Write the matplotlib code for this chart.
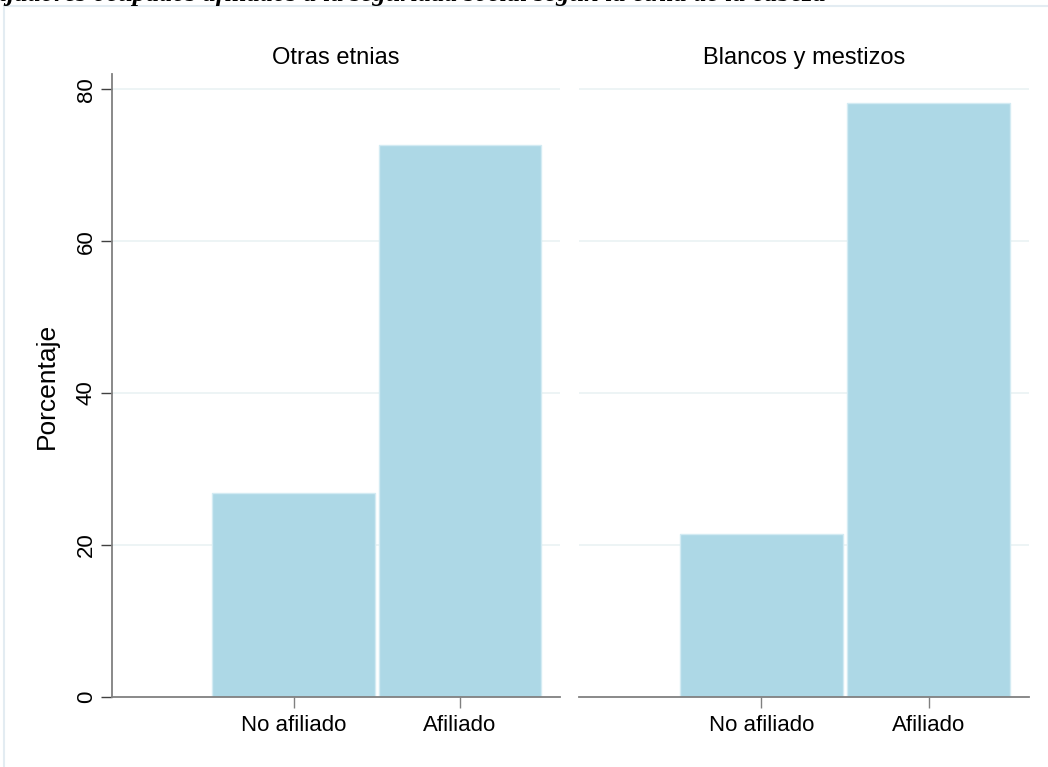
import numpy as np
import matplotlib.pyplot as plt
from matplotlib.patches import Rectangle

plt.rcParams['font.family'] = ['Liberation Sans', 'DejaVu Sans']

# data
groups = ['Otras etnias', 'Blancos y mestizos']
categories = ['No afiliado', 'Afiliado']
pct_otras = [26.9, 72.6]
pct_blancos = [21.4, 78.2]
yticks = [0, 20, 40, 60, 80]
title = 'Trabajadores ocupados afiliados a la seguridad social según la etnia de la cabeza'

bar_col = '#add8e6'
grid_col = '#eaf2f3'
axis_col = '#808080'

fig = plt.figure(figsize=(10.48, 7.67), dpi=100)
fig.patch.set_facecolor('white')

# outer frame
fig.patches.append(Rectangle((4 / 1048, -0.01), 1.02, 1 - 6 / 767 + 0.01,
                             transform=fig.transFigure, fill=False,
                             edgecolor='#e3ecf2', linewidth=1.5))

# title, cut at the top edge as in the source
fig.text(-0.055, 1 - 1.5 / 767, title, fontsize=19, family='Liberation Serif',
         style='italic', weight='bold', va='baseline', ha='left')

bottom = (767 - 697) / 767
height = (697 - 74) / 767
ax1 = fig.add_axes([112 / 1048, bottom, 448 / 1048, height])
ax2 = fig.add_axes([579 / 1048, bottom, 450 / 1048, height])

x = np.arange(1, len(categories) + 1)
for ax, vals, name in [(ax1, pct_otras, groups[0]), (ax2, pct_blancos, groups[1])]:
    ax.set_facecolor('white')
    ax.bar(x, vals, width=0.975, color=bar_col, edgecolor='#d3ebf3',
           linewidth=1.0, zorder=2)
    ax.set_xlim(-0.09, 2.6)
    ax.set_ylim(0, 82)
    ax.set_yticks(yticks)
    ax.set_xticks(x)
    ax.set_xticklabels(categories, fontsize=16)
    for y in yticks[1:]:
        ax.axhline(y, color=grid_col, linewidth=1.2, zorder=1)
    for s in ['top', 'right']:
        ax.spines[s].set_visible(False)
    ax.spines['bottom'].set_color(axis_col)
    ax.spines['bottom'].set_linewidth(1.3)
    ax.spines['left'].set_color(axis_col)
    ax.spines['left'].set_linewidth(1.3)
    ax.tick_params(axis='x', length=8, color=axis_col, width=1, pad=5)
    ax.tick_params(axis='y', length=8, color='#404040', width=1, pad=3,
                   labelsize=16)
    ax.set_title(name, fontsize=17, pad=7)

for lab in ax1.get_yticklabels():
    lab.set_rotation(90)
    lab.set_va('center')
ax1.set_ylabel('Porcentaje', fontsize=19, labelpad=12)

ax2.spines['left'].set_visible(False)
ax2.tick_params(axis='y', left=False, labelleft=False)

fig.savefig('out.png', dpi=100)
